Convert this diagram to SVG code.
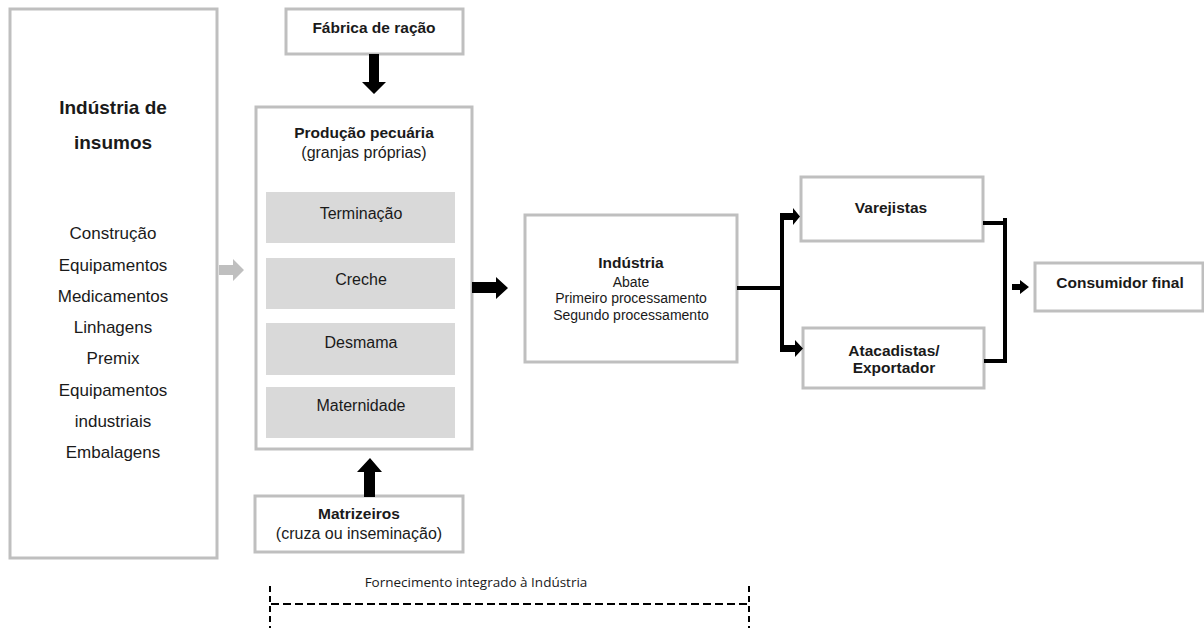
<svg xmlns="http://www.w3.org/2000/svg" width="1204" height="628" viewBox="0 0 1204 628">
  <style>
    .box { fill: #ffffff; stroke: #bfbfbf; stroke-width: 3; }
    .stage { fill: #d9d9d9; stroke: none; }
    text { font-family: "Liberation Sans", Arial, sans-serif; fill: #1a1a1a; text-anchor: middle; }
    .b { font-weight: bold; }
    .h { font-size: 15.5px; font-weight: bold; }
    .r { font-size: 16px; }
    .s { font-size: 14px; }
    .big { font-size: 19px; font-weight: bold; }
    .list { font-size: 17px; }
    .note { font-family: "Open Sans", "Liberation Sans", sans-serif; font-size: 13.5px; }
    .blk { fill: #000000; }
    .gry { fill: #bfbfbf; }
    .ln { stroke: #000000; stroke-width: 4; fill: none; }
    .dash { stroke: #000000; stroke-width: 2; fill: none; }
  </style>

  <!-- Input industry -->
  <g id="insumos">
    <rect class="box" x="10" y="9" width="207" height="549"/>
    <text class="big" x="113" y="114">Indústria de</text>
    <text class="big" x="113" y="149">insumos</text>
    <text class="list" x="113" y="239">Construção</text>
    <text class="list" x="113" y="271">Equipamentos</text>
    <text class="list" x="113" y="302">Medicamentos</text>
    <text class="list" x="113" y="333">Linhagens</text>
    <text class="list" x="113" y="364">Premix</text>
    <text class="list" x="113" y="396">Equipamentos</text>
    <text class="list" x="113" y="427">industriais</text>
    <text class="list" x="113" y="458">Embalagens</text>
  </g>

  <!-- Feed mill -->
  <g id="fabrica">
    <rect class="box" x="286" y="9" width="177" height="45"/>
    <text class="h" x="374" y="33">Fábrica de ração</text>
  </g>

  <!-- Livestock production -->
  <g id="producao">
    <rect class="box" x="256" y="107" width="216" height="342"/>
    <text class="h" x="364" y="138">Produção pecuária</text>
    <text class="r" x="364" y="158">(granjas próprias)</text>
    <rect class="stage" x="266" y="192" width="189" height="51"/>
    <text class="r" x="361" y="219">Terminação</text>
    <rect class="stage" x="266" y="258" width="189" height="51"/>
    <text class="r" x="361" y="285">Creche</text>
    <rect class="stage" x="266" y="323" width="189" height="52"/>
    <text class="r" x="361" y="348">Desmama</text>
    <rect class="stage" x="266" y="387" width="189" height="51"/>
    <text class="r" x="361" y="411">Maternidade</text>
  </g>

  <!-- Breeding stock -->
  <g id="matrizeiros">
    <rect class="box" x="255" y="496" width="208" height="56"/>
    <text class="h" x="359" y="519">Matrizeiros</text>
    <text class="r" x="359" y="539">(cruza ou inseminação)</text>
  </g>

  <!-- Processing industry -->
  <g id="industria">
    <rect class="box" x="525" y="215" width="212" height="147"/>
    <text class="h" x="631" y="268">Indústria</text>
    <text class="s" x="631" y="287">Abate</text>
    <text class="s" x="631" y="303">Primeiro processamento</text>
    <text class="s" x="631" y="320">Segundo processamento</text>
  </g>

  <!-- Retail -->
  <g id="varejistas">
    <rect class="box" x="801" y="177" width="182" height="64"/>
    <text class="h" x="891" y="213">Varejistas</text>
  </g>

  <!-- Wholesale / export -->
  <g id="atacadistas">
    <rect class="box" x="803" y="328" width="181" height="60"/>
    <text class="h" x="894" y="356">Atacadistas/</text>
    <text class="h" x="894" y="373">Exportador</text>
  </g>

  <!-- Final consumer -->
  <g id="consumidor">
    <rect class="box" x="1035" y="263" width="168" height="48"/>
    <text class="h" x="1120" y="288">Consumidor final</text>
  </g>

  <!-- Connectors -->
  <g id="connectors">
    <!-- inputs into production -->
    <polygon class="gry" points="219,265 233,265 233,259 244,270 233,281 233,275 219,275"/>
    <polygon class="blk" points="369,54 379,54 379,82 386,82 374,94 362,82 369,82"/>
    <polygon class="blk" points="364,497 375,497 375,472 382,472 370,458 357,472 364,472"/>
    <!-- production to industry -->
    <polygon class="blk" points="472,282 496,282 496,277 508,288 496,299 496,293 472,293"/>
    <!-- industry split -->
    <path class="ln" d="M737,288 H782 M782,214 V350"/>
    <polygon class="blk" points="780,213 793,213 793,208 800,216.5 793,225 793,220 780,220"/>
    <polygon class="blk" points="780,345 795,345 795,340 803,348.5 795,357 795,352 780,352"/>
    <!-- merge to consumer -->
    <path class="ln" d="M983,223 H1005 M1005,218 V362 M984,361 H1007"/>
    <polygon class="blk" points="1012,284 1020,284 1020,280 1029,287 1020,294 1020,290 1012,290"/>
  </g>

  <!-- Integrated supply bracket -->
  <g id="fornecimento">
    <text class="note" x="476" y="587">Fornecimento integrado à Indústria</text>
    <path class="dash" stroke-dasharray="8,4" d="M271,604 H749"/>
    <path class="dash" stroke-dasharray="6,4" d="M270,586 V628 M749,586 V628"/>
  </g>
</svg>
